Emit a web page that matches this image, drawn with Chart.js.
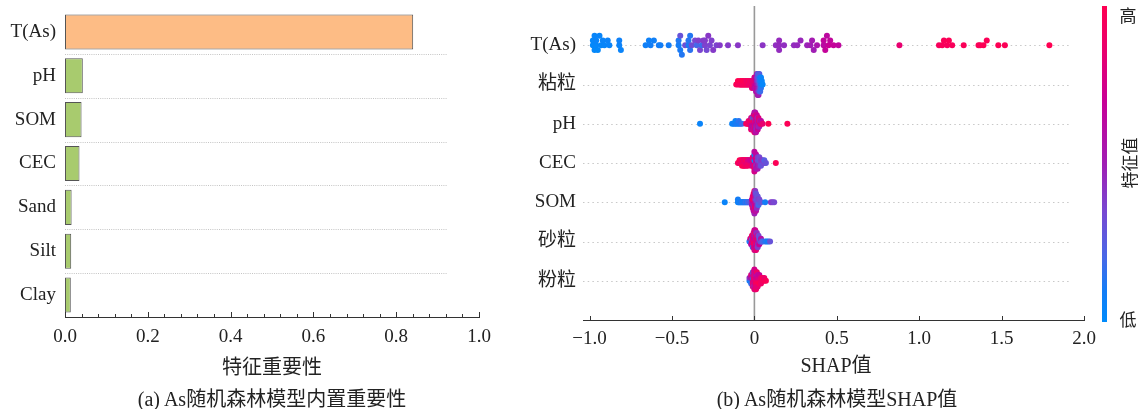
<!DOCTYPE html>
<html>
<head>
<meta charset="utf-8">
<script src="https://cdn.jsdelivr.net/npm/chart.js@4.4.0/dist/chart.umd.min.js"></script>
<style>
  html, body { margin: 0; padding: 0; background: #fff; }
  body { width: 1139px; height: 409px; position: relative; overflow: hidden;
         font-family: 'Liberation Serif', 'Times New Roman', 'Noto Sans CJK SC', serif; color: #222; }
  #leftChart { position: absolute; left: 0; top: 0; }
  #rightChart { position: absolute; left: 490px; top: 0; }
  .lbl { position: absolute; transform: translate(-50%, -50%); white-space: nowrap; }
</style>
</head>
<body>
<canvas id="leftChart" width="500" height="409"></canvas>
<canvas id="rightChart" width="649" height="409"></canvas>

<div class="lbl" style="left:272px; top:365px; font-size:20px;">特征重要性</div>
<div class="lbl" style="left:272px; top:397px; font-size:20px;">(a) As随机森林模型内置重要性</div>
<div class="lbl" style="left:836px; top:363px; font-size:20px;">SHAP值</div>
<div class="lbl" style="left:837px; top:397px; font-size:20px;">(b) As随机森林模型SHAP值</div>
<div class="lbl" style="left:1128px; top:14px; font-size:17px;">高</div>
<div class="lbl" style="left:1128px; top:318px; font-size:17px;">低</div>
<div class="lbl" style="left:1128px; top:163px; font-size:17px; transform:translate(-50%,-50%) rotate(-90deg);">特征值</div>

<script>
// =========================================================================
// DATA
// =========================================================================

// (a) built-in importance
const impLabels = ['T(As)', 'pH', 'SOM', 'CEC', 'Sand', 'Silt', 'Clay'];
const impValues = [0.841, 0.043, 0.040, 0.035, 0.016, 0.015, 0.014];
const impTicks = [0, 0.2, 0.4, 0.6, 0.8, 1.0];

// (b) SHAP beeswarm, rows listed bottom -> top
const rowNames = ['粉粒', '砂粒', 'SOM', 'CEC', 'pH', '粘粒', 'T(As)'];
const shapTicks = [-1.0, -0.5, 0, 0.5, 1.0, 1.5, 2.0];

const tasShap = [
    -0.98, -0.98, -0.97, -0.97, -0.96, -0.96, -0.95, -0.94, -0.93, -0.92, -0.91, -0.89, -0.88,
    -0.82, -0.82, -0.81,
    -0.66, -0.64, -0.63, -0.61, -0.58, -0.57,
    -0.52,
    -0.46, -0.46, -0.45, -0.45, -0.44, -0.42,
    -0.40, -0.40, -0.39, -0.39, -0.38,
    -0.36, -0.35, -0.34, -0.33, -0.32, -0.31, -0.30, -0.30, -0.29, -0.28, -0.27, -0.26, -0.25, -0.23, -0.21,
    -0.16, -0.10,
    0.05,
    0.13, 0.15, 0.15, 0.15, 0.18,
    0.24, 0.26, 0.28,
    0.32, 0.34, 0.35, 0.36, 0.38,
    0.42, 0.42, 0.43, 0.44, 0.45, 0.46, 0.48, 0.51,
    0.88,
    1.12, 1.14, 1.15, 1.17, 1.18, 1.20,
    1.27,
    1.36, 1.37, 1.39, 1.41,
    1.48, 1.52,
    1.79
];
const tasFeat = [
    0.02, 0.03, 0.02, 0.04, 0.03, 0.05, 0.02, 0.04, 0.03, 0.05, 0.04, 0.06, 0.05,
    0.06, 0.07, 0.05,
    0.08, 0.07, 0.09, 0.08, 0.10, 0.09,
    0.10,
    0.10, 0.12, 0.11, 0.30, 0.13, 0.32,
    0.12, 0.14, 0.15, 0.13, 0.33,
    0.35, 0.20, 0.38, 0.36, 0.18, 0.40, 0.37, 0.39, 0.34, 0.41, 0.36, 0.38, 0.40, 0.37, 0.40,
    0.40, 0.41,
    0.42,
    0.44, 0.45, 0.46, 0.45, 0.44,
    0.45, 0.46, 0.47,
    0.48, 0.50, 0.52, 0.50, 0.55,
    0.62, 0.66, 0.68, 0.64, 0.70, 0.66, 0.68, 0.65,
    0.85,
    0.95, 0.96, 0.97, 0.95, 0.98, 0.96,
    0.97,
    0.98, 0.97, 0.99, 0.98,
    0.99, 0.98,
    1.00
];

const clayShap = [
    -0.11, -0.10, -0.10, -0.09, -0.085, -0.085, -0.08, -0.075, -0.075, -0.07,
    -0.065, -0.065, -0.06, -0.055, -0.055, -0.05, -0.045, -0.045, -0.04, -0.035,
    -0.035, -0.03, -0.025, -0.025, -0.02, -0.015, -0.015, -0.015, -0.01, -0.01,
    0, 0, 0, 0, 0.005, 0.005, 0.005, 0.005, 0.01, 0.01,
    0.01, 0.01, 0.01, 0.015, 0.015, 0.015, 0.015, 0.015, 0.015, 0.02,
    0.02, 0.02, 0.02, 0.02, 0.02, 0.02, 0.025, 0.025, 0.025, 0.025,
    0.025, 0.025, 0.025, 0.03, 0.03, 0.03, 0.03, 0.03, 0.03, 0.035,
    0.035, 0.035, 0.035, 0.035, 0.04, 0.04, 0.04, 0.04, 0.045, 0.045,
    0.05
];
const clayFeat = [
    0.98, 0.95, 1.00, 0.97, 0.92, 1.00, 0.96, 0.90, 0.99, 0.95,
    0.93, 1.00, 0.97, 0.90, 0.96, 0.98, 0.92, 0.88, 0.95, 0.90,
    0.97, 0.86, 0.93, 0.88, 0.90, 0.85, 0.95, 0.80, 0.88, 0.82,
    0.75, 0.85, 0.70, 0.80, 0.72, 0.80, 0.65, 0.70, 0.68, 0.75,
    0.60, 0.72, 0.55, 0.62, 0.50, 0.70, 0.45, 0.66, 0.58, 0.55,
    0.40, 0.62, 0.35, 0.50, 0.30, 0.58, 0.45, 0.35, 0.55, 0.28,
    0.40, 0.22, 0.50, 0.35, 0.20, 0.42, 0.15, 0.30, 0.25, 0.22,
    0.12, 0.30, 0.10, 0.18, 0.12, 0.08, 0.15, 0.05, 0.08, 0.04,
    0.03
];

const phShap = [
    -0.33,
    -0.135, -0.125, -0.115, -0.115, -0.105, -0.095, -0.095, -0.085, -0.075,
    -0.05, -0.04, -0.035, -0.035, -0.03, -0.025, -0.025,
    -0.02, -0.02, -0.02,
    -0.015, -0.015, -0.015, -0.015,
    -0.01, -0.01, -0.01, -0.01, -0.01,
    -0.005, -0.005, -0.005, -0.005, -0.005, -0.005,
    0, 0, 0, 0, 0, 0, 0, 0,
    0.005, 0.005, 0.005, 0.005, 0.005, 0.005, 0.005, 0.005,
    0.01, 0.01, 0.01, 0.01, 0.01, 0.01, 0.01,
    0.015, 0.015, 0.015, 0.015, 0.015, 0.015,
    0.02, 0.02, 0.02, 0.02, 0.02,
    0.025, 0.025, 0.025, 0.025,
    0.03, 0.03, 0.03,
    0.035, 0.035,
    0.04, 0.04,
    0.05,
    0.085, 0.20
];
const phFeat = [
    0.05,
    0.05, 0.08, 0.10, 0.06, 0.12, 0.10, 0.15, 0.12, 0.18,
    0.95, 0.90, 1.00, 0.85, 0.92, 0.80, 0.95,
    0.90, 0.70, 0.85,
    0.75, 0.95, 0.65, 0.88,
    0.70, 0.90, 0.60, 0.10, 0.80,
    0.72, 0.85, 0.65, 0.95, 0.55, 0.78,
    0.70, 0.88, 0.62, 0.15, 0.80, 0.68, 0.92, 0.60,
    0.75, 0.60, 0.85, 0.55, 0.70, 0.90, 0.65, 0.58,
    0.68, 0.80, 0.55, 0.72, 0.50, 0.85, 0.62,
    0.60, 0.75, 0.50, 0.80, 0.45, 0.70,
    0.65, 0.50, 0.78, 0.45, 0.70,
    0.55, 0.72, 0.48, 0.80,
    0.60, 0.85, 0.50,
    0.75, 0.55,
    0.90, 0.65,
    0.85,
    1.00, 0.98
];

const cecShap = [
    -0.10, -0.09, -0.09, -0.08, -0.08, -0.075, -0.075, -0.075, -0.07, -0.07,
    -0.065, -0.065, -0.065, -0.06, -0.06, -0.06, -0.055, -0.055, -0.05, -0.05,
    -0.05, -0.045, -0.045, -0.04, -0.04, -0.04, -0.035, -0.035, -0.03, -0.03,
    -0.02, -0.02, -0.02,
    -0.01, -0.01, -0.01, -0.01,
    0, 0, 0, 0, 0, 0, 0, 0,
    0.01, 0.01, 0.01, 0.01, 0.01, 0.01,
    0.02, 0.02, 0.02, 0.02, 0.02,
    0.03, 0.03, 0.03, 0.03,
    0.04, 0.04, 0.04,
    0.05, 0.05,
    0.06, 0.06,
    0.07,
    0.13
];
const cecFeat = [
    0.95, 0.90, 1.00, 0.85, 0.97, 0.92, 0.88, 1.00, 0.90, 0.96,
    0.85, 0.93, 0.98, 0.90, 0.80, 0.95, 0.88, 0.92, 0.85, 0.97,
    0.90, 0.82, 0.95, 0.88, 0.78, 0.92, 0.85, 0.80, 0.90, 0.75,
    0.80, 0.70, 0.90,
    0.75, 0.85, 0.65, 0.90,
    0.70, 0.10, 0.85, 0.60, 0.90, 0.05, 0.75, 0.65,
    0.60, 0.70, 0.45, 0.80, 0.55, 0.65,
    0.50, 0.35, 0.60, 0.40, 0.55,
    0.40, 0.30, 0.45, 0.35,
    0.35, 0.40, 0.30,
    0.30, 0.40,
    0.35, 0.25,
    0.30,
    0.98
];

const somShap = [
    -0.18,
    -0.10, -0.10, -0.095, -0.09, -0.085, -0.08, -0.075, -0.07, -0.065,
    -0.06, -0.055, -0.05, -0.045, -0.04, -0.035, -0.03, -0.025, -0.02,
    -0.015, -0.015, -0.015,
    -0.01, -0.01, -0.01, -0.01, -0.01,
    -0.005, -0.005, -0.005, -0.005, -0.005, -0.005, -0.005,
    0, 0, 0, 0, 0, 0, 0, 0, 0,
    0.005, 0.005, 0.005, 0.005, 0.005, 0.005, 0.005, 0.005,
    0.01, 0.01, 0.01, 0.01, 0.01, 0.01, 0.01,
    0.015, 0.015, 0.015, 0.015, 0.015,
    0.02, 0.02, 0.02, 0.02,
    0.025, 0.025, 0.025,
    0.03, 0.03,
    0.04,
    0.065, 0.10, 0.11, 0.12
];
const somFeat = [
    0.05,
    0.05, 0.10, 0.08, 0.12, 0.06, 0.10, 0.15, 0.08, 0.12,
    0.10, 0.14, 0.18, 0.10, 0.20, 0.15, 0.25, 0.20, 0.30,
    0.40, 0.70, 0.55,
    0.65, 0.85, 0.50, 0.75, 0.90,
    0.70, 0.95, 0.60, 0.80, 0.45, 0.88, 0.65,
    0.75, 0.90, 0.55, 1.00, 0.68, 0.85, 0.60, 0.92, 0.50,
    0.70, 0.45, 0.85, 0.60, 0.95, 0.50, 0.78, 0.40,
    0.55, 0.35, 0.70, 0.45, 0.80, 0.30, 0.60,
    0.40, 0.30, 0.55, 0.35, 0.45,
    0.35, 0.25, 0.40, 0.30,
    0.30, 0.40, 0.20,
    0.25, 0.35,
    0.30,
    0.10, 0.40, 0.38, 0.35
];

const sandShap = [
    -0.03,
    -0.025, -0.025,
    -0.02, -0.02, -0.02,
    -0.015, -0.015, -0.015, -0.015,
    -0.01, -0.01, -0.01, -0.01, -0.01,
    -0.005, -0.005, -0.005, -0.005, -0.005, -0.005,
    0, 0, 0, 0, 0, 0, 0, 0,
    0.005, 0.005, 0.005, 0.005, 0.005, 0.005, 0.005, 0.005,
    0.01, 0.01, 0.01, 0.01, 0.01, 0.01, 0.01,
    0.015, 0.015, 0.015, 0.015, 0.015, 0.015,
    0.02, 0.02, 0.02, 0.02, 0.02,
    0.025, 0.025, 0.025, 0.025,
    0.03, 0.03, 0.03,
    0.035, 0.035,
    0.04, 0.04,
    0.045, 0.05,
    0.065, 0.075, 0.085, 0.095
];
const sandFeat = [
    0.10,
    0.15, 0.70,
    0.12, 0.80, 0.60,
    0.85, 0.20, 0.70, 0.90,
    0.75, 0.95, 0.60, 0.88, 0.15,
    0.80, 0.65, 0.92, 0.70, 0.55, 0.85,
    0.90, 0.70, 0.95, 0.60, 0.82, 0.50, 0.88, 0.75,
    0.85, 0.65, 0.92, 0.55, 0.78, 0.98, 0.60, 0.72,
    0.80, 0.90, 0.60, 0.95, 0.70, 0.50, 0.85,
    0.88, 0.65, 0.92, 0.55, 0.75, 0.45,
    0.70, 0.90, 0.50, 0.80, 0.40,
    0.60, 0.85, 0.45, 0.35,
    0.50, 0.30, 0.70,
    0.40, 0.25,
    0.30, 0.60,
    0.35, 0.20,
    0.15, 0.12, 0.10, 0.30
];

const siltShap = [
    -0.03, -0.03,
    -0.02, -0.02, -0.02, -0.02,
    -0.01, -0.01, -0.01, -0.01, -0.01, -0.01,
    -0.005, -0.005, -0.005, -0.005, -0.005, -0.005,
    0, 0, 0, 0, 0, 0, 0, 0,
    0.005, 0.005, 0.005, 0.005, 0.005, 0.005, 0.005,
    0.01, 0.01, 0.01, 0.01, 0.01, 0.01, 0.01,
    0.015, 0.015, 0.015, 0.015, 0.015, 0.015,
    0.02, 0.02, 0.02, 0.02, 0.02,
    0.03, 0.03, 0.03, 0.03,
    0.04, 0.04, 0.04,
    0.05, 0.05,
    0.06, 0.06,
    0.07
];
const siltFeat = [
    0.10, 0.45,
    0.08, 0.60, 0.15, 0.80,
    0.70, 0.10, 0.90, 0.55, 0.85, 0.20,
    0.75, 0.95, 0.60, 0.88, 0.40, 0.80,
    0.90, 0.70, 0.95, 0.60, 0.85, 0.50, 0.92, 0.75,
    0.80, 0.95, 0.65, 0.90, 0.55, 0.85, 0.70,
    0.92, 0.75, 0.98, 0.60, 0.85, 0.70, 0.90,
    0.88, 0.70, 0.95, 0.60, 0.82, 0.90,
    0.90, 0.75, 0.95, 0.65, 0.85,
    0.92, 0.80, 0.98, 0.70,
    0.95, 0.85, 0.90,
    0.92, 0.98,
    0.95, 0.88,
    0.97
];

// =========================================================================
// HELPERS
// =========================================================================
const SERIF = "'Liberation Serif', 'Times New Roman', 'Noto Sans CJK SC', serif";
const TEXT = '#222';

// blue -> purple -> red (shap style colormap)
const cmapStops = [
    [0.00, [0, 139, 251]],
    [0.10, [20, 125, 246]],
    [0.20, [70, 105, 232]],
    [0.35, [120, 72, 210]],
    [0.50, [160, 30, 180]],
    [0.70, [200, 0, 150]],
    [0.85, [232, 0, 112]],
    [1.00, [255, 0, 82]]
];
function cmap(t) {
    t = Math.max(0, Math.min(1, t));
    for (let i = 1; i < cmapStops.length; i++) {
        const [t1, c1] = cmapStops[i];
        const [t0, c0] = cmapStops[i - 1];
        if (t <= t1) {
            const f = (t - t0) / (t1 - t0);
            const c = c0.map((v, k) => Math.round(v + (c1[k] - v) * f));
            return `rgb(${c[0]},${c[1]},${c[2]})`;
        }
    }
    return 'rgb(255,0,82)';
}

// vertical jitter like shap's beeswarm: bin the values, stack the points in each bin
function swarmOffsets(vals, rowHeight = 0.4, nbins = 100) {
    const lo = Math.min(...vals), hi = Math.max(...vals);
    const quant = vals.map(v => Math.round(nbins * (v - lo) / (hi - lo + 1e-8)));
    const order = vals.map((_, i) => i).sort((a, b) => quant[a] - quant[b] || a - b);
    const ys = new Array(vals.length).fill(0);
    let layer = 0, last = -1;
    for (const i of order) {
        if (quant[i] !== last) layer = 0;
        ys[i] = Math.ceil(layer / 2) * ((layer % 2) * 2 - 1);
        layer++;
        last = quant[i];
    }
    const m = Math.max(...ys.map(y => y + 1));
    return ys.map(y => y * 0.9 * (rowHeight / m));
}

// keep label overflow from pushing the plot area around
function noScalePadding(s) {
    s.paddingTop = 0; s.paddingBottom = 0; s.paddingLeft = 0; s.paddingRight = 0;
}

// =========================================================================
// (a) IMPORTANCE BAR CHART
// =========================================================================
const leftDecor = {
    id: 'leftDecor',
    beforeDatasetsDraw(chart) {
        const { ctx, chartArea, scales: { x, y } } = chart;
        ctx.save();
        ctx.strokeStyle = '#c4c4c4';
        ctx.lineWidth = 1;
        ctx.setLineDash([1, 1.2]);
        for (let i = 0; i < impLabels.length - 1; i++) {
            const yy = Math.round((y.getPixelForValue(i) + y.getPixelForValue(i + 1)) / 2) + 0.5;
            ctx.beginPath();
            ctx.moveTo(chartArea.left, yy);
            ctx.lineTo(x.getPixelForValue(0.923), yy);
            ctx.stroke();
        }
        ctx.restore();
    },
    afterDraw(chart) {
        const { ctx, chartArea, scales: { x } } = chart;
        ctx.save();
        ctx.strokeStyle = '#333';
        ctx.lineWidth = 1;
        const base = chartArea.bottom;
        for (let k = 0; k <= 25; k++) {
            const v = k * 0.04;
            const major = k % 5 === 0;
            const px = Math.round(x.getPixelForValue(v)) + 0.5;
            ctx.beginPath();
            ctx.moveTo(px, base);
            ctx.lineTo(px, base - (major ? 5 : 3));
            ctx.stroke();
        }
        ctx.restore();
    }
};

new Chart(document.getElementById('leftChart'), {
    type: 'bar',
    data: {
        labels: impLabels,
        datasets: [{
            data: impValues,
            backgroundColor: ctx => ctx.dataIndex === 0 ? '#fdbc85' : '#a8cb6e',
            borderColor: '#555',
            borderWidth: 1,
            borderSkipped: false,
            barPercentage: 0.8,
            categoryPercentage: 1.0
        }]
    },
    options: {
        indexAxis: 'y',
        responsive: false,
        animation: false,
        events: [],
        layout: { padding: { top: 10, right: 21, left: 0, bottom: 0 } },
        plugins: { legend: { display: false }, tooltip: { enabled: false } },
        scales: {
            x: {
                type: 'linear', min: 0, max: 1,
                afterBuildTicks: s => { s.ticks = impTicks.map(v => ({ value: v })); },
                afterFit: s => { s.height = 92; noScalePadding(s); },
                ticks: { callback: v => v.toFixed(1), font: { family: SERIF, size: 19 }, color: TEXT, padding: 9, maxRotation: 0, autoSkip: false },
                grid: { display: false, drawTicks: false },
                border: { display: true, color: '#333', width: 1 }
            },
            y: {
                afterFit: s => { s.width = 65; noScalePadding(s); },
                ticks: { font: { family: SERIF, size: 19 }, color: TEXT, padding: 9 },
                grid: { display: false, drawTicks: false },
                border: { display: false }
            }
        }
    },
    plugins: [leftDecor]
});

// =========================================================================
// (b) SHAP BEESWARM
// =========================================================================
const rowShap = [siltShap, sandShap, somShap, cecShap, phShap, clayShap, tasShap];
const rowFeat = [siltFeat, sandFeat, somFeat, cecFeat, phFeat, clayFeat, tasFeat];

const swarmSets = rowShap.map((vals, r) => {
    const offs = swarmOffsets(vals);
    return {
        data: vals.map((v, i) => ({ x: v, y: r + offs[i] })),
        pointBackgroundColor: rowFeat[r].map(f => cmap(f)),
        pointRadius: 3,
        pointBorderWidth: 0,
        pointHoverRadius: 3
    };
});

const rightDecor = {
    id: 'rightDecor',
    beforeDatasetsDraw(chart) {
        const { ctx, chartArea, scales: { x, y } } = chart;
        ctx.save();
        // row guide lines
        ctx.strokeStyle = '#c8c8c8';
        ctx.lineWidth = 1;
        ctx.setLineDash([1.5, 3.2]);
        rowNames.forEach((_, i) => {
            const yy = Math.round(y.getPixelForValue(i)) + 0.5;
            ctx.beginPath();
            ctx.moveTo(chartArea.left, yy);
            ctx.lineTo(x.getPixelForValue(1.92), yy);
            ctx.stroke();
        });
        // zero line
        ctx.setLineDash([]);
        ctx.strokeStyle = '#999';
        ctx.lineWidth = 1.6;
        const x0 = x.getPixelForValue(0);
        ctx.beginPath();
        ctx.moveTo(x0, chartArea.top);
        ctx.lineTo(x0, chartArea.bottom);
        ctx.stroke();
        ctx.restore();
    },
    afterDraw(chart) {
        const { ctx, chartArea, scales: { x } } = chart;
        ctx.save();
        ctx.strokeStyle = '#333';
        ctx.lineWidth = 1;
        shapTicks.forEach(v => {
            const px = Math.round(x.getPixelForValue(v)) + 0.5;
            ctx.beginPath();
            ctx.moveTo(px, chartArea.bottom);
            ctx.lineTo(px, chartArea.bottom - 4);
            ctx.stroke();
        });
        // colour bar
        const cbX = 612, cbW = 5, cbTop = 6, cbBot = 322;
        const g = ctx.createLinearGradient(0, cbBot, 0, cbTop);
        for (let k = 0; k <= 20; k++) g.addColorStop(k / 20, cmap(k / 20));
        ctx.fillStyle = g;
        ctx.fillRect(cbX, cbTop, cbW, cbBot - cbTop);
        ctx.restore();
    }
};

new Chart(document.getElementById('rightChart'), {
    type: 'scatter',
    data: { datasets: swarmSets },
    options: {
        responsive: false,
        animation: false,
        events: [],
        layout: { padding: { top: 6, right: 55, left: 0, bottom: 0 } },
        plugins: { legend: { display: false }, tooltip: { enabled: false } },
        scales: {
            x: {
                type: 'linear', min: -1.04, max: 2.0,
                afterBuildTicks: s => { s.ticks = shapTicks.map(v => ({ value: v })); },
                afterFit: s => { s.height = 89; noScalePadding(s); },
                ticks: {
                    callback: v => v === 0 ? '0' : v.toFixed(1).replace('-', '\u2212'),
                    font: { family: SERIF, size: 19 }, color: TEXT, padding: 8, maxRotation: 0, autoSkip: false
                },
                grid: { display: false, drawTicks: false },
                border: { display: true, color: '#333', width: 1 }
            },
            y: {
                type: 'linear', min: -1, max: 7,
                afterBuildTicks: s => { s.ticks = rowNames.map((_, i) => ({ value: i })); },
                afterFit: s => { s.width = 93; noScalePadding(s); },
                ticks: { callback: v => rowNames[v], font: { family: SERIF, size: 19 }, color: TEXT, padding: 7, autoSkip: false },
                grid: { display: false, drawTicks: false },
                border: { display: false }
            }
        }
    },
    plugins: [rightDecor]
});
</script>
</body>
</html>
